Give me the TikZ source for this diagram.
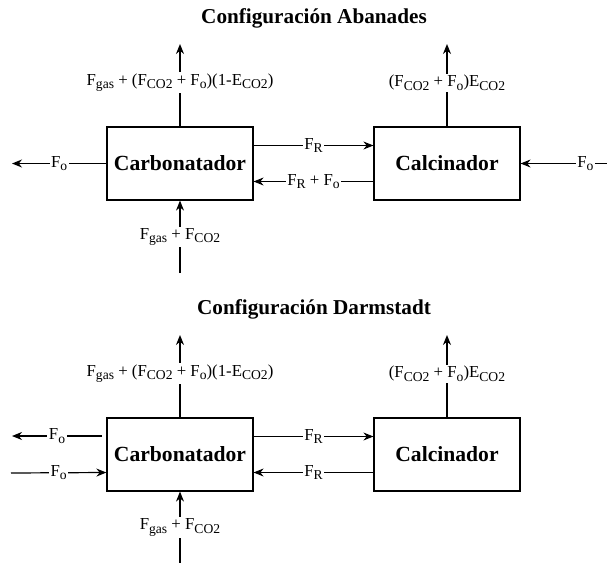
\documentclass[tikz,border=0pt]{standalone}
\usepackage{fontspec}
\setmainfont{Liberation Serif}
\usetikzlibrary{arrows.meta,positioning}
\newcommand{\subs}[1]{\raisebox{-0.45ex}{\fontsize{6.8}{7}\selectfont #1}}

\begin{document}
\begin{tikzpicture}[
  x=0.5pt,y=-0.5pt,
  every node/.style={font=\fontsize{8.4}{10}\selectfont},
  reactor/.style={rectangle,draw,line width=0.6pt,minimum width=73pt,minimum height=36.5pt,inner sep=0pt,font=\bfseries\fontsize{10.8}{12}\selectfont},
  heading/.style={font=\bfseries\fontsize{10.6}{12}\selectfont},
  lbl/.style={fill=white,inner sep=0.8pt},
  line/.style={line width=0.6pt,-{Stealth[length=5pt,width=4pt]}}]
\useasboundingbox (0,0) rectangle (607,563);
% Configuracion Abanades
\node[heading] (titA) at (314,18) {Configuración Abanades};
\node[reactor] (carbA) at (180,163.5) {Carbonatador};
\node[reactor] (calcA) at (447,163.5) {Calcinador};
\coordinate (carbAtop) at (180,44);
\coordinate (calcAtop) at (447,44);
\coordinate (carbAleft) at (12,163.5);
\coordinate (calcAright) at (607,163.5);
\coordinate (carbAbot) at (180,273);
\draw[line] (carbA.north) -- node[lbl,pos=0.53]{F\subs{gas} + (F\subs{CO2} + F\subs{o})(1-E\subs{CO2})} (carbAtop);
\draw[line] (calcA.north) -- node[lbl,pos=0.53]{(F\subs{CO2} + F\subs{o})E\subs{CO2}} (calcAtop);
\draw[line] (carbA.west) -- node[lbl]{F\subs{o}} (carbAleft);
\draw[line] ([yshift=9pt]carbA.east) -- node[lbl]{F\subs{R}} ([yshift=9pt]calcA.west);
\draw[line] ([yshift=-9pt]calcA.west) -- node[lbl]{F\subs{R} + F\subs{o}} ([yshift=-9pt]carbA.east);
\draw[line] (calcAright) -- node[lbl,pos=0.25]{F\subs{o}} (calcA.east);
\draw[line] (carbAbot) -- node[lbl]{F\subs{gas} + F\subs{CO2}} (carbA.south);
% Configuracion Darmstadt
\node[heading] (titD) at (314,309) {Configuración Darmstadt};
\node[reactor] (carbD) at (180,454.5) {Carbonatador};
\node[reactor] (calcD) at (447,454.5) {Calcinador};
\coordinate (carbDtop) at (180,335);
\coordinate (calcDtop) at (447,335);
\coordinate (carbDout) at (102,436);
\coordinate (carbDoutend) at (12,436);
\coordinate (carbDin) at (11,473);
\coordinate (carbDbot) at (180,563);
\draw[line] (carbD.north) -- node[lbl,pos=0.53]{F\subs{gas} + (F\subs{CO2} + F\subs{o})(1-E\subs{CO2})} (carbDtop);
\draw[line] (calcD.north) -- node[lbl,pos=0.53]{(F\subs{CO2} + F\subs{o})E\subs{CO2}} (calcDtop);
\draw[line] (carbDout) -- node[lbl]{F\subs{o}} (carbDoutend);
\draw[line] (carbDin) -- node[lbl]{F\subs{o}} ([yshift=-9pt]carbD.west);
\draw[line] ([yshift=9pt]carbD.east) -- node[lbl]{F\subs{R}} ([yshift=9pt]calcD.west);
\draw[line] ([yshift=-9pt]calcD.west) -- node[lbl]{F\subs{R}} ([yshift=-9pt]carbD.east);
\draw[line] (carbDbot) -- node[lbl]{F\subs{gas} + F\subs{CO2}} (carbD.south);
\end{tikzpicture}
\end{document}
